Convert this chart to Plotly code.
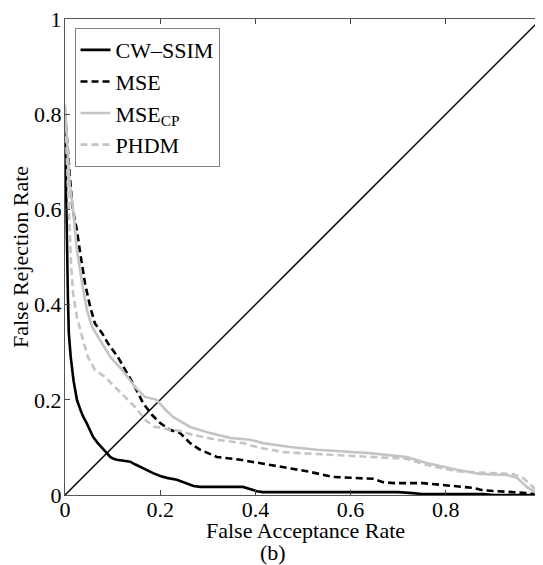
import plotly.graph_objects as go

# CW-SSIM (black solid)
cw_x = [0, 0.002, 0.004, 0.006, 0.008, 0.012, 0.018, 0.025, 0.032, 0.038, 0.046, 0.052, 0.059, 0.068,
        0.078, 0.088, 0.095, 0.102, 0.109, 0.12, 0.137, 0.148, 0.158, 0.172, 0.185, 0.2, 0.214, 0.235,
        0.245, 0.256, 0.27, 0.284, 0.3, 0.34, 0.374, 0.39, 0.403, 0.416, 0.5, 0.6, 0.7, 0.73, 0.75,
        0.8, 0.88, 0.9, 1.0]
cw_y = [0.79, 0.65, 0.52, 0.42, 0.34, 0.29, 0.24, 0.2, 0.18, 0.165, 0.15, 0.137, 0.122, 0.11,
        0.1, 0.088, 0.08, 0.076, 0.074, 0.072, 0.07, 0.064, 0.059, 0.052, 0.046, 0.04, 0.036, 0.032,
        0.028, 0.023, 0.019, 0.017, 0.017, 0.017, 0.017, 0.012, 0.008, 0.006, 0.006, 0.006, 0.006,
        0.004, 0.002, 0.002, 0.002, 0.0, 0.0]

# MSE (black dashed)
mse_x = [0, 0.004, 0.01, 0.015, 0.02, 0.025, 0.032, 0.042, 0.053, 0.063, 0.078, 0.09, 0.111, 0.13,
         0.147, 0.164, 0.183, 0.2, 0.22, 0.242, 0.263, 0.284, 0.319, 0.368, 0.41, 0.458, 0.508, 0.563,
         0.62, 0.647, 0.668, 0.69, 0.752, 0.82, 0.857, 0.878, 0.928, 0.97, 1.0]
mse_y = [0.8, 0.75, 0.68, 0.61, 0.58, 0.557, 0.508, 0.445, 0.395, 0.36, 0.34, 0.319, 0.29, 0.256,
         0.227, 0.193, 0.168, 0.151, 0.137, 0.13, 0.109, 0.095, 0.08, 0.074, 0.067, 0.059, 0.05, 0.038,
         0.036, 0.034, 0.027, 0.025, 0.025, 0.019, 0.015, 0.01, 0.006, 0.004, 0.0]

# MSE_CP (gray solid)
cp_x = [0, 0.003, 0.006, 0.01, 0.017, 0.025, 0.036, 0.046, 0.057, 0.078, 0.095, 0.12, 0.147, 0.168,
        0.193, 0.21, 0.227, 0.263, 0.305, 0.347, 0.389, 0.416, 0.473, 0.529, 0.6, 0.64, 0.718, 0.76,
        0.823, 0.872, 0.928, 0.95, 0.97, 0.99, 1.0]
cp_y = [0.82, 0.76, 0.7, 0.65, 0.6, 0.515, 0.445, 0.389, 0.353, 0.319, 0.29, 0.263, 0.227, 0.206,
        0.2, 0.18, 0.164, 0.143, 0.13, 0.12, 0.116, 0.109, 0.101, 0.095, 0.09, 0.088, 0.08, 0.067,
        0.053, 0.044, 0.042, 0.036, 0.017, 0.004, 0.0]

# PHDM (gray dashed)
ph_x = [0, 0.004, 0.008, 0.013, 0.017, 0.025, 0.036, 0.048, 0.063, 0.084, 0.105, 0.126, 0.147, 0.168,
        0.189, 0.2, 0.22, 0.24, 0.27, 0.319, 0.374, 0.41, 0.458, 0.529, 0.6, 0.647, 0.718, 0.76, 0.823,
        0.893, 0.941, 0.962, 0.983, 0.994, 1.0]
ph_y = [0.8, 0.7, 0.59, 0.48, 0.424, 0.374, 0.332, 0.29, 0.263, 0.248, 0.227, 0.206, 0.185, 0.158,
        0.143, 0.142, 0.137, 0.135, 0.126, 0.116, 0.109, 0.099, 0.09, 0.086, 0.082, 0.08, 0.076, 0.063,
        0.05, 0.046, 0.044, 0.036, 0.017, 0.004, 0.0]

# Equal error rate diagonal
diag_x = [0, 1]
diag_y = [0, 1]

tick_vals = [0, 0.2, 0.4, 0.6, 0.8, 1]
tick_text = ["0", "0.2", "0.4", "0.6", "0.8", "1"]

GRAY = "#c4c4c4"
FONT = "Liberation Serif"
FS = 22

fig = go.Figure()
fig.add_trace(go.Scatter(x=diag_x, y=diag_y, mode="lines", showlegend=False,
                         line=dict(color="black", width=1.5)))
fig.add_trace(go.Scatter(x=cw_x, y=cw_y, mode="lines", name="CW\u2013SSIM",
                         line=dict(color="black", width=2.6)))
fig.add_trace(go.Scatter(x=mse_x, y=mse_y, mode="lines", name="MSE",
                         line=dict(color="black", width=2.6, dash="7px,4px")))
fig.add_trace(go.Scatter(x=cp_x, y=cp_y, mode="lines", name="MSE<sub>CP</sub>",
                         line=dict(color=GRAY, width=2.6)))
fig.add_trace(go.Scatter(x=ph_x, y=ph_y, mode="lines", name="PHDM",
                         line=dict(color=GRAY, width=2.6, dash="7px,4px")))

axis_common = dict(range=[0, 1], tickvals=tick_vals, ticktext=tick_text, ticks="inside",
                   ticklen=5, tickcolor="#444", showline=True, linecolor="#555", linewidth=1,
                   mirror="ticks", showgrid=False, zeroline=False, automargin=False,
                   ticklabeloverflow="allow",
                   tickfont=dict(family=FONT, size=FS, color="black"))

# The page body adds an 8px margin, so the figure is sized/offset to compensate.
fig.update_layout(
    width=535, height=557,
    margin=dict(l=57, r=2, t=11, b=70),
    paper_bgcolor="white", plot_bgcolor="white",
    font=dict(family=FONT, size=FS, color="black"),
    xaxis=dict(**axis_common, ticklabelstandoff=-5),
    yaxis=dict(**axis_common, ticklabelstandoff=-2),
    legend=dict(x=0.02, y=0.981, xanchor="left", yanchor="top", bgcolor="white",
                bordercolor="#808080", borderwidth=1, font=dict(family=FONT, size=FS),
                itemwidth=30, tracegroupgap=0),
    annotations=[
        dict(text="False Acceptance Rate", x=0.505, y=0, xref="paper", yref="paper",
             yshift=-35, yanchor="middle", showarrow=False, font=dict(family=FONT, size=FS)),
        dict(text="False Rejection Rate", x=0, y=0.5, xref="paper", yref="paper",
             xshift=-45, xanchor="center", yanchor="middle", textangle=-90, showarrow=False,
             font=dict(family=FONT, size=FS)),
        dict(text="(b)", x=0.437, y=0, xref="paper", yref="paper",
             yshift=-57, yanchor="middle", showarrow=False, font=dict(family=FONT, size=FS)),
    ],
)

fig.write_html("out.html")
